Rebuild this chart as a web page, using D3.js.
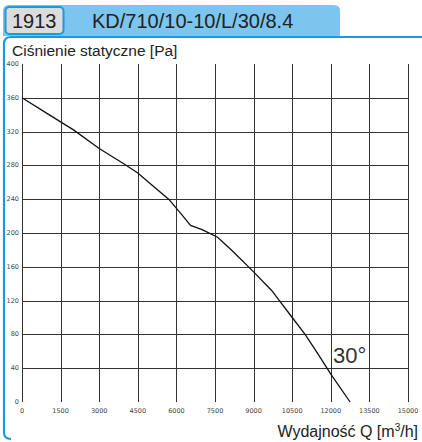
<!DOCTYPE html>
<html><head><meta charset="utf-8">
<script src="https://cdn.jsdelivr.net/npm/d3@7"></script>
<style>body{margin:0;background:#fff}svg{display:block}</style>
</head><body>
<script>
const flowQ = [0,1000,2000,3000,4000,4500,5000,5700,6200,6550,7000,7600,8200,9000,9700,10500,11000,11500,12000,12750];
const pressure = [360,341,322,300,281,271,258,240,222,209,204,195,178,154,132,100,80,57,33,0];
const xTicks = [0,1500,3000,4500,6000,7500,9000,10500,12000,13500,15000];
const yTicks = [0,40,80,120,160,200,240,280,320,360,400];
const code = "1913";
const model = "KD/710/10-10/L/30/8.4";
const angleLabel = "30°";
const yTitle = "Ciśnienie statyczne [Pa]";

const W=422,H=442;
const svg=d3.select("body").append("svg").attr("width",W).attr("height",H);
const blue="#1a9ae0";
// header tab
svg.append("path").attr("d","M3,36 L3,11 Q3,5 9,5 L334,5 Q340,5 340,11 L340,36 Z").attr("fill","#7cc5ee");
svg.append("rect").attr("x",5.5).attr("y",7).attr("width",58).attr("height",27).attr("rx",4)
  .attr("fill","#dcdcdc").attr("stroke",blue).attr("stroke-width",2);
svg.append("text").attr("x",12).attr("y",28).attr("font-family","Liberation Sans, Arial, sans-serif")
  .attr("font-size",20).attr("fill","#222").text(code);
svg.append("text").attr("x",92).attr("y",28).attr("font-family","Liberation Sans, Arial, sans-serif")
  .attr("font-size",20).attr("fill","#222").text(model);
// panel
svg.append("path").attr("d","M430,37 L11,37 Q4,37 4,44 L4,432 Q4,439 11,439").attr("fill","none")
  .attr("stroke",blue).attr("stroke-width",2.2);

const x=d3.scaleLinear().domain([0,15000]).range([22,408]);
const y=d3.scaleLinear().domain([0,400]).range([402,64]);
const g=svg.append("g");
// vertical grid
g.selectAll(".vg").data(xTicks).enter().append("line")
  .attr("x1",d=>Math.round(x(d))+0.5).attr("x2",d=>Math.round(x(d))+0.5)
  .attr("y1",y(400)).attr("y2",y(0)).attr("stroke","#333").attr("stroke-width",1);
// horizontal grid
g.selectAll(".hg").data(yTicks.filter(d=>d>0&&d<400)).enter().append("line")
  .attr("x1",x(0)).attr("x2",x(15000))
  .attr("y1",d=>Math.round(y(d))+0.5).attr("y2",d=>Math.round(y(d))+0.5)
  .attr("stroke","#333").attr("stroke-width",1);
// tick labels
g.selectAll(".yl").data(yTicks).enter().append("text")
  .attr("x",19).attr("y",d=>y(d)+2).attr("text-anchor","end")
  .attr("font-family","DejaVu Sans, sans-serif").attr("font-size",6.5).attr("fill","#444").text(d=>d);
g.selectAll(".xl").data(xTicks).enter().append("text")
  .attr("x",d=>x(d)).attr("y",413).attr("text-anchor","middle")
  .attr("font-family","DejaVu Sans, sans-serif").attr("font-size",6.5).attr("fill","#444").text(d=>d);
// curve
const line=d3.line().x(d=>x(d[0])).y(d=>y(d[1]));
g.append("path").datum(flowQ.map((q,i)=>[q,pressure[i]])).attr("d",line)
  .attr("fill","none").attr("stroke","#111").attr("stroke-width",1.3);
// labels
svg.append("text").attr("x",333).attr("y",363).attr("font-family","Liberation Sans, Arial, sans-serif")
  .attr("font-size",22).attr("fill","#333").text(angleLabel);
svg.append("text").attr("x",12).attr("y",56).attr("font-family","Liberation Sans, Arial, sans-serif")
  .attr("font-size",15.5).attr("fill","#222").text(yTitle);
const xt=svg.append("text").attr("x",418).attr("y",437).attr("text-anchor","end")
  .attr("font-family","Liberation Sans, Arial, sans-serif").attr("font-size",16).attr("fill","#222");
xt.append("tspan").text("Wydajność Q [m");
xt.append("tspan").attr("font-size",10).attr("dy",-6).text("3");
xt.append("tspan").attr("dy",6).text("/h]");
</script>
</body></html>
